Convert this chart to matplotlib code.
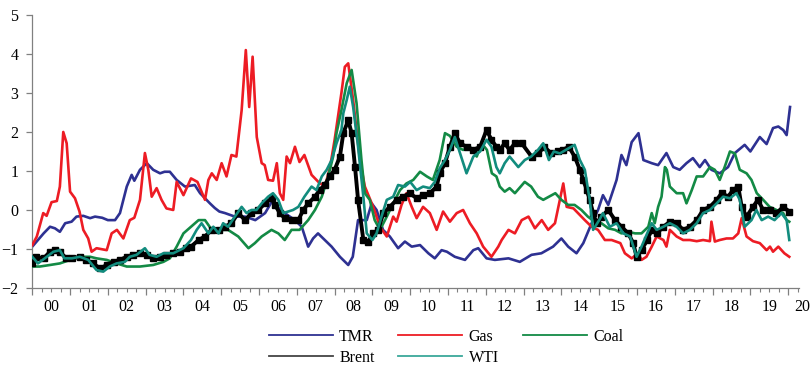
import matplotlib
matplotlib.use('Agg')
import matplotlib.pyplot as plt
from matplotlib.lines import Line2D
from matplotlib.ticker import MultipleLocator, FixedLocator
import numpy as np

# ---------------------------------------------------------------- data
tmr_t = [2000.0, 2000.3, 2000.47, 2000.6, 2000.73, 2000.87, 2001.04, 2001.17, 2001.35, 2001.53,
         2001.66, 2001.85, 2002.0, 2002.19, 2002.32, 2002.5, 2002.63, 2002.7, 2002.85, 2003.03,
         2003.2, 2003.38, 2003.5, 2003.64, 2003.82, 2004.04, 2004.3, 2004.44, 2004.57, 2004.7,
         2004.83, 2004.95, 2005.1, 2005.36, 2005.63, 2005.9, 2006.16, 2006.33, 2006.46, 2006.68,
         2006.95, 2007.13, 2007.3, 2007.43, 2007.56, 2007.74, 2007.92, 2008.14, 2008.36, 2008.48,
         2008.62, 2008.85, 2008.98, 2009.11, 2009.28, 2009.46, 2009.68, 2009.86, 2010.04, 2010.26,
         2010.48, 2010.65, 2010.83, 2010.97, 2011.18, 2011.45, 2011.67, 2011.8, 2012.02, 2012.24,
         2012.6, 2012.9, 2013.21, 2013.47, 2013.78, 2014.0, 2014.18, 2014.4, 2014.58, 2014.8,
         2014.97, 2015.1, 2015.24, 2015.46, 2015.59, 2015.72, 2015.86, 2016.04, 2016.17, 2016.39,
         2016.56, 2016.78, 2016.96, 2017.13, 2017.31, 2017.48, 2017.66, 2017.8, 2017.97, 2018.19,
         2018.41, 2018.59, 2018.85, 2019.0, 2019.25, 2019.43, 2019.6, 2019.74, 2019.87, 2019.96,
         2020.05]
tmr_v = [-0.94, -0.6, -0.43, -0.47, -0.56, -0.34, -0.3, -0.17, -0.15, -0.21,
         -0.17, -0.2, -0.26, -0.26, -0.08, 0.6, 0.9, 0.75, 1.03, 1.2,
         1.03, 0.94, 0.98, 0.98, 0.77, 0.6, 0.64, 0.43, 0.3, 0.17,
         0.05, -0.04, -0.08, -0.17, -0.17, -0.26, -0.08, 0.2, 0.1, -0.08,
         -0.26, -0.43, -0.94, -0.73, -0.6, -0.77, -0.94, -1.2, -1.41, -1.2,
         -0.26, -0.26, 0.17, 0.0, -0.51, -0.68, -0.98, -0.81, -0.94, -0.9,
         -1.11, -1.24, -1.03, -1.07, -1.2, -1.28, -1.03, -0.98, -1.24, -1.28,
         -1.24, -1.33, -1.15, -1.11, -0.94, -0.73, -0.94, -1.11, -0.85, -0.34,
         0.0, 0.38, 0.13, 0.77, 1.41, 1.15, 1.74, 1.97, 1.28, 1.2,
         1.15, 1.46, 1.1, 1.03, 1.2, 1.33, 1.1, 1.28, 1.03, 0.94,
         1.1, 1.46, 1.67, 1.5, 1.87, 1.69, 2.1, 2.14, 2.05, 1.92,
         2.64]

gas_t = [2000.0, 2000.12, 2000.29, 2000.38, 2000.51, 2000.65, 2000.73, 2000.82, 2000.91, 2001.0,
         2001.13, 2001.25, 2001.35, 2001.48, 2001.57, 2001.7, 2001.97, 2002.1, 2002.24, 2002.41,
         2002.58, 2002.7, 2002.85, 2002.98, 2003.07, 2003.16, 2003.29, 2003.42, 2003.55, 2003.73,
         2003.82, 2004.0, 2004.2, 2004.37, 2004.57, 2004.66, 2004.75, 2004.88, 2005.01, 2005.14,
         2005.27, 2005.4, 2005.54, 2005.65, 2005.74, 2005.83, 2005.94, 2006.07, 2006.15, 2006.24,
         2006.37, 2006.47, 2006.55, 2006.64, 2006.73, 2006.82, 2006.95, 2007.07, 2007.2, 2007.39,
         2007.57, 2007.74, 2007.88, 2008.0, 2008.18, 2008.27, 2008.36, 2008.49, 2008.67, 2008.8,
         2009.02, 2009.2, 2009.38, 2009.55, 2009.64, 2009.77, 2009.9, 2010.04, 2010.17, 2010.34,
         2010.52, 2010.7, 2010.87, 2011.05, 2011.23, 2011.4, 2011.58, 2011.76, 2011.93, 2012.15,
         2012.33, 2012.42, 2012.6, 2012.77, 2012.95, 2013.13, 2013.3, 2013.48, 2013.65, 2013.83,
         2013.96, 2014.05, 2014.14, 2014.32, 2014.44, 2014.62, 2014.8, 2014.97, 2015.15, 2015.33,
         2015.56, 2015.68, 2015.86, 2016.03, 2016.12, 2016.25, 2016.39, 2016.52, 2016.7, 2016.78,
         2016.87, 2017.05, 2017.22, 2017.4, 2017.58, 2017.75, 2017.93, 2017.97, 2018.06, 2018.19,
         2018.37, 2018.54, 2018.68, 2018.77, 2018.9, 2019.07, 2019.25, 2019.43, 2019.52, 2019.6,
         2019.74, 2019.9, 2020.03]
gas_v = [-0.9, -0.68, -0.08, -0.15, 0.2, 0.23, 0.6, 2.0, 1.71, 0.47,
         0.3, -0.04, -0.51, -0.73, -1.07, -0.98, -1.03, -0.6, -0.51, -0.73,
         -0.26, -0.2, 0.26, 1.46, 1.03, 0.34, 0.56, 0.26, 0.04, 0.0,
         0.72, 0.38, 0.81, 0.72, 0.26, 0.77, 0.94, 0.77, 1.2, 0.86,
         1.41, 1.37, 2.56, 4.1, 2.64, 3.93, 1.87, 1.2, 1.15, 0.77,
         0.75, 1.2, 0.43, 0.26, 1.37, 1.2, 1.62, 1.23, 1.41, 0.9,
         0.72, 0.6, 1.1, 1.8, 3.0, 3.67, 3.76, 2.82, 1.28, 0.6,
         0.08, -0.43, -0.68, -0.17, -0.3, 0.13, 0.43, 0.08, -0.21, 0.08,
         -0.08, -0.51, -0.04, -0.3, -0.08, 0.0, -0.34, -0.6, -0.94, -1.2,
         -0.94, -0.77, -0.51, -0.6, -0.26, -0.17, -0.47, -0.26, -0.51, -0.34,
         0.26, 0.68, 0.08, 0.04, -0.08, -0.26, -0.43, -0.51, -0.77, -0.77,
         -0.85, -1.11, -1.24, -1.11, -1.28, -1.2, -0.94, -0.68, -0.77, -0.94,
         -0.51, -0.68, -0.77, -0.77, -0.8, -0.77, -0.8, -0.3, -0.81, -0.77,
         -0.73, -0.73, -0.6, -0.21, -0.68, -0.8, -0.85, -1.03, -0.94, -1.07,
         -0.94, -1.11, -1.2]

coal_t = [2000.0, 2000.2, 2000.47, 2000.73, 2001.0, 2001.26, 2001.53, 2001.7, 2001.97, 2002.23,
          2002.5, 2002.85, 2003.2, 2003.47, 2003.64, 2003.82, 2004.0, 2004.2, 2004.4, 2004.57,
          2004.75, 2004.93, 2005.18, 2005.45, 2005.72, 2005.89, 2006.07, 2006.33, 2006.51, 2006.68,
          2006.86, 2007.07, 2007.3, 2007.48, 2007.66, 2007.83, 2007.96, 2008.05, 2008.18, 2008.32,
          2008.45, 2008.58, 2008.71, 2008.8, 2008.93, 2009.06, 2009.2, 2009.38, 2009.55, 2009.73,
          2009.9, 2010.08, 2010.26, 2010.44, 2010.6, 2010.78, 2010.92, 2011.05, 2011.23, 2011.4,
          2011.58, 2011.76, 2011.89, 2012.03, 2012.16, 2012.28, 2012.37, 2012.5, 2012.63, 2012.77,
          2013.03, 2013.2, 2013.38, 2013.52, 2013.67, 2013.84, 2014.0, 2014.18, 2014.35, 2014.53,
          2014.7, 2014.88, 2015.06, 2015.24, 2015.42, 2015.59, 2015.77, 2015.95, 2016.12, 2016.3,
          2016.39, 2016.47, 2016.56, 2016.65, 2016.74, 2016.79, 2016.87, 2017.05, 2017.22, 2017.31,
          2017.45, 2017.58, 2017.75, 2017.93, 2018.06, 2018.19, 2018.32, 2018.46, 2018.59, 2018.72,
          2018.9, 2019.03, 2019.17, 2019.34, 2019.51, 2019.69, 2019.87, 2019.96, 2020.03]
coal_v = [-1.45, -1.45, -1.41, -1.37, -1.28, -1.2, -1.2, -1.24, -1.28, -1.37,
          -1.45, -1.45, -1.41, -1.33, -1.24, -0.94, -0.6, -0.43, -0.26, -0.26,
          -0.51, -0.51, -0.51, -0.68, -0.98, -0.85, -0.68, -0.51, -0.6, -0.77,
          -0.51, -0.51, -0.26, 0.0, 0.34, 0.86, 1.37, 1.97, 2.56, 3.25,
          3.59, 2.74, 1.28, 0.43, 0.26, -0.26, -0.51, -0.17, 0.17, 0.51,
          0.68, 0.77, 0.98, 0.86, 0.77, 1.28, 1.97, 1.9, 1.62, 1.54,
          1.62, 1.37, 1.71, 1.54, 0.94, 0.86, 0.6, 0.47, 0.56, 0.43,
          0.72, 0.6, 0.34, 0.26, 0.34, 0.43, 0.26, 0.13, 0.13, 0.0,
          -0.17, -0.3, -0.34, -0.47, -0.51, -0.6, -0.56, -0.6, -0.6, -0.43,
          -0.08, -0.34, 0.08, 0.34, 1.1, 1.03, 0.6, 0.43, 0.43, 0.17,
          0.51, 0.86, 0.86, 1.1, 1.03, 0.77, 1.1, 1.5, 1.45, 1.03,
          0.94, 0.77, 0.43, 0.26, 0.08, 0.0, -0.08, -0.26, -0.3]

brent_t = [2000.0, 2000.1, 2000.3, 2000.47, 2000.6, 2000.73, 2000.9, 2001.05, 2001.26, 2001.43,
           2001.6, 2001.8, 2001.97, 2002.15, 2002.32, 2002.5, 2002.67, 2002.85, 2003.03, 2003.2,
           2003.38, 2003.55, 2003.73, 2003.9, 2004.08, 2004.2, 2004.4, 2004.57, 2004.75, 2004.93,
           2005.1, 2005.27, 2005.45, 2005.63, 2005.8, 2005.98, 2006.16, 2006.33, 2006.42, 2006.55,
           2006.68, 2006.86, 2007.04, 2007.17, 2007.3, 2007.48, 2007.6, 2007.74, 2007.87, 2008.0,
           2008.14, 2008.23, 2008.36, 2008.45, 2008.54, 2008.62, 2008.76, 2008.89, 2009.02, 2009.15,
           2009.29, 2009.46, 2009.64, 2009.81, 2009.99, 2010.17, 2010.34, 2010.52, 2010.7, 2010.78,
           2010.92, 2011.05, 2011.18, 2011.32, 2011.49, 2011.67, 2011.85, 2012.02, 2012.15, 2012.28,
           2012.37, 2012.5, 2012.63, 2012.77, 2012.95, 2013.21, 2013.38, 2013.55, 2013.73, 2013.9,
           2014.03, 2014.2, 2014.35, 2014.49, 2014.58, 2014.67, 2014.75, 2014.84, 2014.93, 2015.06,
           2015.24, 2015.42, 2015.59, 2015.77, 2015.9, 2015.99, 2016.12, 2016.27, 2016.39, 2016.52,
           2016.7, 2016.87, 2017.05, 2017.22, 2017.4, 2017.58, 2017.75, 2017.93, 2018.11, 2018.24,
           2018.41, 2018.54, 2018.68, 2018.77, 2018.9, 2019.07, 2019.2, 2019.34, 2019.51, 2019.69,
           2019.87, 2020.03]
brent_v = [-1.37, -1.2, -1.24, -1.07, -1.03, -1.07, -1.24, -1.24, -1.2, -1.28,
           -1.37, -1.5, -1.41, -1.33, -1.28, -1.2, -1.15, -1.11, -1.15, -1.24,
           -1.2, -1.15, -1.11, -1.07, -0.98, -0.94, -0.77, -0.68, -0.51, -0.51,
           -0.43, -0.34, -0.08, -0.26, -0.08, 0.0, 0.17, 0.3, 0.13, -0.08,
           -0.21, -0.26, -0.26, 0.0, 0.17, 0.34, 0.51, 0.64, 0.86, 1.03,
           1.37, 1.97, 2.3, 1.97, 1.1, 0.26, -0.77, -0.81, -0.6, -0.51,
           -0.08, 0.08, 0.26, 0.34, 0.43, 0.3, 0.38, 0.43, 0.6, 0.94,
           1.2, 1.62, 1.97, 1.71, 1.62, 1.54, 1.62, 2.05, 1.8, 1.62,
           1.54, 1.71, 1.54, 1.71, 1.71, 1.37, 1.45, 1.62, 1.45, 1.5,
           1.54, 1.62, 1.37, 1.03, 0.77, 0.51, 0.26, -0.08, -0.34, -0.17,
           0.0, -0.26, -0.43, -0.6, -0.85, -1.2, -1.03, -0.77, -0.51, -0.6,
           -0.43, -0.3, -0.34, -0.51, -0.43, -0.26, 0.0, 0.08, 0.26, 0.43,
           0.34, 0.51, 0.6, 0.08, -0.17, 0.08, 0.26, 0.0, 0.0, -0.08,
           0.08, -0.04]

wti_t = [2000.0, 2000.15, 2000.33, 2000.56, 2000.73, 2000.85, 2001.05, 2001.26, 2001.48, 2001.7,
         2001.88, 2002.05, 2002.23, 2002.45, 2002.58, 2002.76, 2002.98, 2003.1, 2003.29, 2003.47,
         2003.73, 2004.0, 2004.2, 2004.35, 2004.48, 2004.66, 2004.79, 2004.93, 2005.05, 2005.18,
         2005.36, 2005.54, 2005.67, 2005.8, 2005.93, 2006.07, 2006.24, 2006.37, 2006.51, 2006.64,
         2006.77, 2006.9, 2007.04, 2007.2, 2007.39, 2007.52, 2007.66, 2007.79, 2007.92, 2008.05,
         2008.18, 2008.23, 2008.32, 2008.4, 2008.49, 2008.62, 2008.76, 2008.85, 2009.0, 2009.11,
         2009.24, 2009.38, 2009.55, 2009.68, 2009.86, 2010.0, 2010.17, 2010.34, 2010.52, 2010.65,
         2010.78, 2010.92, 2011.05, 2011.18, 2011.32, 2011.49, 2011.67, 2011.85, 2012.02, 2012.15,
         2012.28, 2012.37, 2012.5, 2012.63, 2012.86, 2013.03, 2013.2, 2013.38, 2013.52, 2013.67,
         2013.8, 2013.96, 2014.12, 2014.35, 2014.49, 2014.62, 2014.75, 2014.84, 2015.0, 2015.1,
         2015.28, 2015.46, 2015.64, 2015.82, 2015.99, 2016.12, 2016.27, 2016.39, 2016.52, 2016.7,
         2016.87, 2017.05, 2017.22, 2017.4, 2017.58, 2017.75, 2017.93, 2018.11, 2018.28, 2018.46,
         2018.63, 2018.72, 2018.85, 2019.03, 2019.16, 2019.3, 2019.47, 2019.64, 2019.82, 2019.96,
         2020.03]
wti_v = [-1.2, -1.37, -1.24, -1.07, -1.03, -1.24, -1.24, -1.2, -1.28, -1.54,
         -1.58, -1.45, -1.37, -1.33, -1.2, -1.15, -0.98, -1.15, -1.2, -1.11,
         -1.11, -0.98, -0.77, -0.51, -0.34, -0.6, -0.43, -0.6, -0.34, -0.43,
         -0.17, 0.08, -0.08, 0.0, 0.0, 0.17, 0.34, 0.43, 0.26, -0.08,
         -0.04, 0.0, 0.08, 0.34, 0.6, 0.51, 0.86, 1.03, 1.28, 1.71,
         2.05, 2.48, 2.82, 3.16, 2.64, 1.62, 0.34, -0.6, -0.77, -0.6,
         -0.17, 0.26, 0.34, 0.64, 0.6, 0.72, 0.51, 0.6, 0.56, 0.72,
         1.07, 1.28, 1.54, 1.87, 1.45, 0.94, 1.37, 1.5, 1.8, 1.62,
         1.1, 0.94, 1.2, 1.37, 1.1, 1.28, 1.37, 1.54, 1.71, 1.28,
         1.5, 1.45, 1.54, 1.67, 1.28, 1.03, 0.26, -0.51, -0.26, -0.08,
         -0.43, -0.34, -0.6, -0.68, -1.2, -0.94, -0.6, -0.34, -0.51, -0.43,
         -0.34, -0.43, -0.6, -0.51, -0.34, -0.08, 0.0, 0.17, 0.34, 0.3,
         0.43, 0.26, -0.43, -0.26, 0.0, -0.26, -0.17, -0.26, -0.08, -0.26,
         -0.77]

year_labels = ['00', '01', '02', '03', '04', '05', '06', '07', '08', '09',
               '10', '11', '12', '13', '14', '15', '16', '17', '18', '19', '20']
y_ticks = [-2, -1, 0, 1, 2, 3, 4, 5]

# ---------------------------------------------------------------- style
plt.rcParams.update({
    "font.family": ["Liberation Serif", "DejaVu Serif"],
    "font.size": 11.5,
})
c_tmr, c_gas, c_coal, c_brent, c_wti = '#2e3192', '#ed1c24', '#138a45', '#000000', '#128c7e'

fig = plt.figure(figsize=(8.11, 3.65), dpi=100)
ax = fig.add_axes([0.0398, 0.211, 0.946, 0.748])

ax.plot(tmr_t, tmr_v, color=c_tmr, linewidth=1.9, zorder=2)
ax.plot(gas_t, gas_v, color=c_gas, linewidth=1.9, zorder=3)
ax.plot(coal_t, coal_v, color=c_coal, linewidth=1.9, zorder=4)
ax.plot(brent_t, brent_v, color=c_brent, linewidth=2.8, marker='s', markersize=4, zorder=5)
ax.plot(wti_t, wti_v, color=c_wti, linewidth=1.9, zorder=6)

ax.set_xlim(2000, 2020.3)
ax.set_ylim(-2, 5)
ax.yaxis.set_major_locator(FixedLocator(y_ticks))
ax.xaxis.set_major_locator(MultipleLocator(1))
ax.xaxis.set_minor_locator(MultipleLocator(0.25))
ax.set_xticklabels([])
for s in ['top', 'right']:
    ax.spines[s].set_visible(False)
for s in ['left', 'bottom']:
    ax.spines[s].set_color('#808080')
    ax.spines[s].set_linewidth(0.9)
ax.tick_params(axis='y', direction='out', length=4, width=0.9, color='#808080', pad=6)
ax.tick_params(axis='x', which='major', direction='out', length=5, width=0.9, color='#808080')
ax.tick_params(axis='x', which='minor', direction='out', length=3, width=0.8, color='#808080')

# year labels centred in each year, "20" at the right edge
pos = [2000.5 + i for i in range(20)] + [2020.36]
for p, lab in zip(pos, year_labels):
    ax.text(p, -0.04, lab, transform=ax.get_xaxis_transform(), ha='center', va='top')

# legend filled row by row: TMR Gas Coal / Brent WTI
h_tmr = Line2D([], [], color=c_tmr, linewidth=1.3)
h_gas = Line2D([], [], color=c_gas, linewidth=1.3)
h_coal = Line2D([], [], color=c_coal, linewidth=1.3)
h_brent = Line2D([], [], color='#444444', linewidth=1.3)
h_wti = Line2D([], [], color='#3aa89a', linewidth=1.3)
fig.legend([h_tmr, h_brent, h_gas, h_wti, h_coal], ['TMR', 'Brent', 'Gas', 'WTI', 'Coal'],
           ncol=3, loc='upper center', bbox_to_anchor=(0.55, 0.13), frameon=False,
           handlelength=4.0, handletextpad=0.4, columnspacing=1.5, labelspacing=0.32,
           borderpad=0.2)

fig.savefig('out.png', dpi=100)
